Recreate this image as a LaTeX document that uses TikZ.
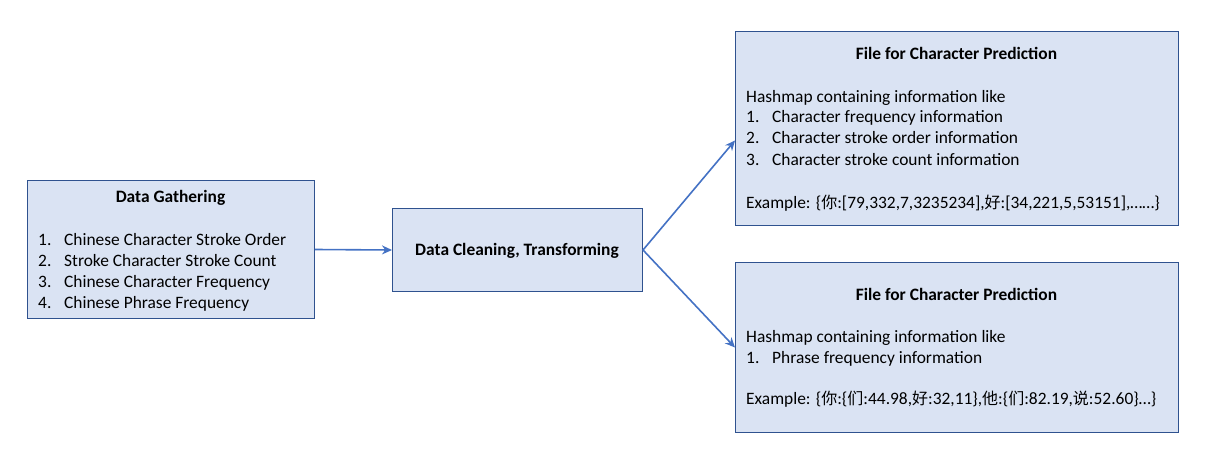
\documentclass[tikz,border=0pt]{standalone}
\usepackage{fontspec}
\setmainfont{Carlito}
\newfontfamily\cjk{Noto Sans CJK SC}
\usetikzlibrary{arrows.meta}
\definecolor{boxfill}{HTML}{DAE3F3}
\definecolor{boxline}{HTML}{2F528F}
\definecolor{arrowc}{HTML}{4472C4}
\newcommand{\zh}[1]{{\cjk\fontsize{16}{20}\selectfont #1}}
\begin{document}
\begin{tikzpicture}[x=1pt,y=-1pt,
 box/.style={draw=boxline, fill=boxfill, line width=1pt, inner sep=0pt, anchor=north west},
 txt/.style={anchor=base west, inner sep=0pt, font=\fontsize{17.4}{21}\selectfont},
 ttl/.style={anchor=base, inner sep=0pt, font=\fontsize{17.4}{21}\selectfont\bfseries},
 conn/.style={draw=arrowc, line width=1.6pt, -{Stealth[length=10pt,width=9pt]}}]
\useasboundingbox (0,0) rectangle (1208,468);
% boxes
\node[box, minimum width=287pt, minimum height=138pt] (gather) at (27,180) {};
\node[box, minimum width=250pt, minimum height=83pt] (clean) at (392,208) {};
\node[box, minimum width=443pt, minimum height=194pt] (predC) at (735,31) {};
\node[box, minimum width=443pt, minimum height=170pt] (predD) at (735,262) {};
% box A text
\node[ttl] (gt) at (170.5,203) {Data Gathering};
\node[txt] (g1n) at (38,245) {1.};
\node[txt] (g1) at (64,245) {Chinese Character Stroke Order};
\node[txt] (g2n) at (38,266) {2.};
\node[txt] (g2) at (64,266) {Stroke Character Stroke Count};
\node[txt] (g3n) at (38,287) {3.};
\node[txt] (g3) at (64,287) {Chinese Character Frequency};
\node[txt] (g4n) at (38,308) {4.};
\node[txt] (g4) at (64,308) {Chinese Phrase Frequency};
% box B text
\node[ttl] (ct) at (517,255) {Data Cleaning, Transforming};
% box C text
\node[ttl] (pct) at (956.5,60) {File for Character Prediction};
\node[txt] (pc0) at (746,103) {Hashmap containing information like};
\node[txt] (pc1n) at (746,123) {1.};
\node[txt] (pc1) at (772,123) {Character frequency information};
\node[txt] (pc2n) at (746,144) {2.};
\node[txt] (pc2) at (772,144) {Character stroke order information};
\node[txt] (pc3n) at (746,165) {3.};
\node[txt] (pc3) at (772,165) {Character stroke count information};
\node[txt] (pce) at (746,208) {Example: \{\zh{你}:[79,332,7,3235234],\zh{好}:[34,221,5,53151],……\}};
% box D text
\node[ttl] (pdt) at (956.5,300) {File for Character Prediction};
\node[txt] (pd0) at (746,342) {Hashmap containing information like};
\node[txt] (pd1n) at (746,363) {1.};
\node[txt] (pd1) at (772,363) {Phrase frequency information};
\node[txt] (pde) at (746,404) {Example: \{\zh{你}:\{\zh{们}:44.98,\zh{好}:32,11\},\zh{他}:\{\zh{们}:82.19,\zh{说}:52.60\}…\}};
% connectors
\draw[conn] (gather.east) -- (clean.west);
\draw[conn] (clean.east) -- ([yshift=-12pt]predC.west);
\draw[conn] (clean.east) -- (predD.west);
\end{tikzpicture}
\end{document}
